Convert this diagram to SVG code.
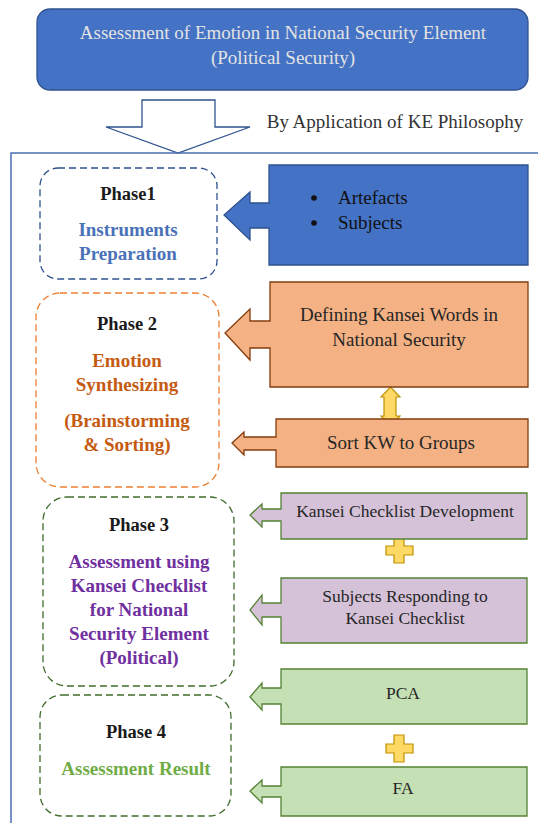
<svg xmlns="http://www.w3.org/2000/svg" width="538" height="823" viewBox="0 0 538 823" font-family="Liberation Serif, serif">
<style>
text{text-anchor:middle;font-family:'Liberation Serif','Times New Roman',serif}
.t{font-size:19px;fill:#262626}
.s{font-size:17.5px;fill:#262626}
.ph{font-size:18.5px;font-weight:bold;fill:#1a1a1a}
.b{font-size:19px;font-weight:bold}
.dash{fill:#fff;stroke-width:1.3;stroke-dasharray:7 4}
.yel{fill:#FFD966;stroke:#BF9000;stroke-width:1.2}
.cb{stroke-width:1.3}
</style>
<rect width="538" height="823" fill="#fff"/>
<g id="title">
<rect x="37" y="9" width="491" height="81" rx="13" fill="#4472C4" stroke="#2F528F" stroke-width="1.3"/>
<text x="283" y="39" class="t" style="fill:#E3E3E3">Assessment of Emotion in National Security Element</text>
<text x="283" y="64" class="t" style="fill:#E3E3E3">(Political Security)</text>
</g>
<g id="connectors">
<path d="M142,100 H215 V127 H250 L178,153 L106,127 H142 Z" fill="#fff" stroke="#2F528F" stroke-width="1.3"/>
<text x="395" y="128" class="t" style="fill:#333">By Application of KE Philosophy</text>
<path d="M538,153 H11 V823" fill="none" stroke="#4A6EB0" stroke-width="1.5"/>
<path d="M384,397 H381 L390.5,387 L400,397 H396 V416 H400 L390.5,426 L381,416 H384 Z" class="yel"/>
<path d="M394,537 H404 V546 H413 V555 H404 V563 H394 V555 H386 V546 H394 Z" class="yel"/>
<path d="M394,735 H404 V744 H413 V753 H404 V762 H394 V753 H386 V744 H394 Z" class="yel"/>
</g>
<g id="phase1">
<rect x="40" y="168" width="177" height="111" rx="18" class="dash" stroke="#2F528F"/>
<text x="128" y="200" class="ph">Phase1</text>
<text x="128" y="236" class="b" fill="#4A72B8">Instruments</text>
<text x="128" y="260" class="b" fill="#4A72B8">Preparation</text>
</g>
<g id="artefacts">
<path d="M269,165 H528 V265 H269 V228 H250 V240 L224,215 L250,192 V203 H269 Z" fill="#4472C4" stroke="#2F528F" class="cb"/>
<circle cx="314" cy="198" r="2.8" fill="#111"/>
<circle cx="314" cy="223" r="2.8" fill="#111"/>
<text x="338" y="204" class="t" style="text-anchor:start;fill:#111">Artefacts</text>
<text x="338" y="229" class="t" style="text-anchor:start;fill:#111">Subjects</text>
</g>
<g id="phase2">
<rect x="36" y="293" width="183" height="194" rx="24" class="dash" stroke="#ED7D31"/>
<text x="127" y="330" class="ph">Phase 2</text>
<text x="127" y="367" class="b" fill="#C55A11">Emotion</text>
<text x="127" y="391" class="b" fill="#C55A11">Synthesizing</text>
<text x="127" y="427" class="b" fill="#C55A11">(Brainstorming</text>
<text x="127" y="451" class="b" fill="#C55A11">&amp; Sorting)</text>
</g>
<g id="defining">
<path d="M270,282 H528 V387 H270 V348 H250 V360 L225,333 L250,309 V321 H270 Z" fill="#F4B183" stroke="#843C0C" class="cb"/>
<text x="399" y="321" class="t">Defining Kansei Words in</text>
<text x="399" y="346" class="t">National Security</text>
</g>
<g id="sort">
<path d="M276,419 H528 V467 H276 V450 H244 V455 L232,443 L244,432 V437 H276 Z" fill="#F4B183" stroke="#843C0C" class="cb"/>
<text x="401" y="449" class="t">Sort KW to Groups</text>
</g>
<g id="phase3">
<rect x="43" y="497" width="191" height="189" rx="24" class="dash" stroke="#3F6B2A"/>
<text x="139" y="531" class="ph">Phase 3</text>
<text x="139" y="568" class="b" fill="#7030A0">Assessment using</text>
<text x="139" y="592" class="b" fill="#7030A0">Kansei Checklist</text>
<text x="139" y="616" class="b" fill="#7030A0">for National</text>
<text x="139" y="640" class="b" fill="#7030A0">Security Element</text>
<text x="139" y="664" class="b" fill="#7030A0">(Political)</text>
</g>
<g id="checklist">
<path d="M281,493 H527 V539 H281 V521 H262 V527 L250,515 L262,504 V509 H281 Z" fill="#D5C2D8" stroke="#548235" class="cb"/>
<text x="405" y="517" class="s">Kansei Checklist Development</text>
</g>
<g id="responding">
<path d="M281,578 H527 V643 H281 V617 H262 V625 L250,610 L262,595 V603 H281 Z" fill="#D5C2D8" stroke="#548235" class="cb"/>
<text x="405" y="602" class="s">Subjects Responding to</text>
<text x="405" y="624" class="s">Kansei Checklist</text>
</g>
<g id="pca">
<path d="M281,669 H527 V724 H281 V704 H262 V710 L250,697 L262,683 V688 H281 Z" fill="#C5E0B4" stroke="#548235" class="cb"/>
<text x="403" y="699" class="s">PCA</text>
</g>
<g id="phase4">
<rect x="40" y="695" width="191" height="121" rx="22" class="dash" stroke="#3F6B2A"/>
<text x="136" y="738" class="ph">Phase 4</text>
<text x="136" y="775" class="b" fill="#70AD47">Assessment Result</text>
</g>
<g id="fa">
<path d="M281,767 H527 V816 H281 V797 H262 V803 L250,791 L262,780 V786 H281 Z" fill="#C5E0B4" stroke="#548235" class="cb"/>
<text x="403" y="794" class="s">FA</text>
</g>
</svg>
